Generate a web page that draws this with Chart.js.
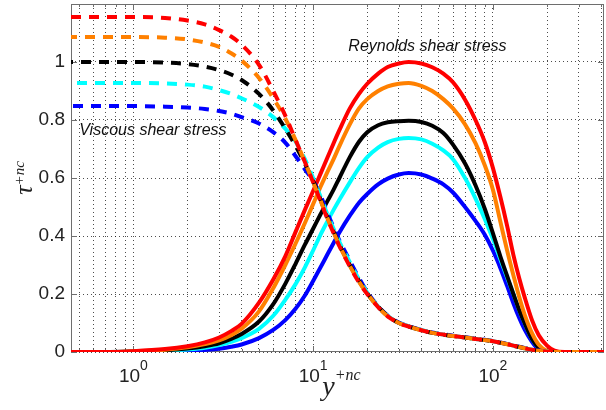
<!DOCTYPE html>
<html>
<head>
<meta charset="utf-8">
<script src="https://cdn.jsdelivr.net/npm/chart.js@4.4.0/dist/chart.umd.min.js"></script>
<style>
html,body{margin:0;padding:0;background:#fff}
</style>
</head>
<body>
<canvas id="data_chart" width="606" height="410"></canvas>
<script>
// y+nc sample positions, shared by every curve
const yplus=[0.45,0.7,1,1.5,2,2.5,3,3.5,4, 5,6,7,8,9,10, 11,12,13,14,16,18,20, 23,26,30,34,40,46,53,60, 70,80,90,100,110,120,130,140,150, 165,180,200,220,250,300,415]

// viscous shear stress (dashed)
const viscous_red=[1.155,1.155,1.155,1.152,1.143,1.13,1.11,1.088,1.06, 0.99,0.9,0.815,0.73,0.655,0.585, 0.52,0.46,0.41,0.365,0.295,0.24,0.2, 0.155,0.123,0.1,0.088,0.075,0.066,0.06,0.055, 0.05,0.045,0.041,0.037,0.032,0.027,0.022,0.017,0.013, 0.008,0.004,0.001,0,0,0,0]
const viscous_orange=[1.086,1.086,1.086,1.084,1.078,1.067,1.052,1.03,1.005, 0.945,0.875,0.805,0.73,0.655,0.585, 0.522,0.462,0.412,0.367,0.297,0.242,0.201, 0.155,0.123,0.1,0.088,0.075,0.066,0.06,0.055, 0.05,0.045,0.041,0.037,0.032,0.027,0.022,0.017,0.013, 0.008,0.004,0.001,0,0,0,0]
const viscous_black=[1.0,1.0,1.0,0.998,0.993,0.984,0.972,0.957,0.938, 0.89,0.833,0.77,0.71,0.65,0.59, 0.525,0.465,0.415,0.37,0.3,0.245,0.202, 0.156,0.124,0.1,0.088,0.075,0.066,0.06,0.055, 0.05,0.045,0.041,0.037,0.032,0.027,0.022,0.017,0.013, 0.008,0.004,0.001,0,0,0,0]
const viscous_cyan=[0.928,0.928,0.928,0.926,0.922,0.915,0.903,0.89,0.875, 0.845,0.81,0.77,0.725,0.665,0.6, 0.535,0.475,0.425,0.38,0.31,0.25,0.205, 0.157,0.125,0.101,0.089,0.076,0.067,0.06,0.055, 0.05,0.045,0.041,0.037,0.032,0.027,0.022,0.017,0.013, 0.008,0.004,0.001,0,0,0,0]
const viscous_blue=[0.848,0.848,0.848,0.846,0.843,0.838,0.831,0.822,0.81, 0.788,0.758,0.722,0.675,0.63,0.59, 0.54,0.48,0.43,0.385,0.315,0.255,0.207, 0.158,0.126,0.102,0.089,0.076,0.067,0.061,0.056, 0.051,0.046,0.042,0.038,0.033,0.028,0.023,0.018,0.014, 0.009,0.005,0.001,0,0,0,0]

// Reynolds shear stress (solid)
const reynolds_red=[0,0,0.003,0.01,0.02,0.033,0.05,0.072,0.097, 0.17,0.25,0.33,0.415,0.49,0.555, 0.615,0.67,0.72,0.765,0.84,0.89,0.925, 0.96,0.983,0.995,1.0,0.995,0.982,0.96,0.93, 0.87,0.8,0.725,0.635,0.535,0.435,0.335,0.255,0.19, 0.11,0.058,0.022,0.005,0,0,0]
const reynolds_orange=[0,0,0.002,0.008,0.016,0.027,0.04,0.058,0.08, 0.14,0.22,0.3,0.375,0.445,0.51, 0.57,0.62,0.665,0.71,0.785,0.84,0.872, 0.9,0.916,0.925,0.928,0.918,0.9,0.872,0.84, 0.785,0.72,0.645,0.56,0.45,0.35,0.265,0.19,0.13, 0.065,0.025,0.004,0,0,0,0]
const reynolds_black=[0,0,0.002,0.006,0.012,0.02,0.03,0.045,0.062, 0.105,0.165,0.235,0.305,0.37,0.425, 0.475,0.52,0.56,0.6,0.672,0.725,0.758, 0.782,0.792,0.796,0.797,0.793,0.78,0.755,0.715, 0.65,0.575,0.495,0.41,0.33,0.262,0.2,0.145,0.1, 0.045,0.015,0.002,0,0,0,0]
const reynolds_cyan=[0,0,0.001,0.004,0.009,0.015,0.024,0.035,0.048, 0.08,0.125,0.18,0.235,0.292,0.35, 0.405,0.45,0.49,0.525,0.585,0.635,0.672, 0.705,0.724,0.735,0.738,0.733,0.718,0.695,0.665, 0.6,0.53,0.46,0.39,0.32,0.257,0.2,0.145,0.1, 0.045,0.015,0.002,0,0,0,0]
const reynolds_blue=[0,0,0,0.002,0.004,0.007,0.011,0.018,0.026, 0.048,0.076,0.11,0.15,0.195,0.245, 0.292,0.336,0.376,0.412,0.47,0.515,0.545, 0.578,0.598,0.612,0.617,0.612,0.598,0.578,0.55, 0.5,0.452,0.405,0.35,0.29,0.228,0.168,0.118,0.078, 0.035,0.008,0,0,0,0,0]

const colors=['#ff0000','#ff8000','#000000','#00ffff','#0000ff']
const y_ticks=[0,0.2,0.4,0.6,0.8,1]
const x_grid=[0.5,0.6,0.7,0.8,0.9,1,2,3,4,5,6,7,8,9,10,20,30,40,50,60,70,80,90,100,200,300,400]
const decades=[1,10,100]

const viscous=[viscous_red,viscous_orange,viscous_black,viscous_cyan,viscous_blue]
const reynolds=[reynolds_red,reynolds_orange,reynolds_black,reynolds_cyan,reynolds_blue]

function pts(vals){
  return yplus.map((x,i)=>({x:x,y:vals[i]}))
}

const datasets=[]
// dashed first so they sit on top of the solid curves
for(let i=0;i<5;i++){
  datasets.push({data:pts(viscous[i]),borderColor:colors[i],borderWidth:4,borderDash:[10,8],borderDashOffset:i*4,
    pointRadius:0,fill:false,cubicInterpolationMode:'monotone'})
}
for(let i=0;i<5;i++){
  datasets.push({data:pts(reynolds[i]),borderColor:colors[i],borderWidth:4,
    pointRadius:0,fill:false,cubicInterpolationMode:'monotone'})
}

function sup_text(ctx,base,sup,base_font,sup_font,x,y,rise){
  ctx.font=base_font
  const w1=ctx.measureText(base).width
  ctx.font=sup_font
  const w2=ctx.measureText(sup).width
  const x0=x-(w1+w2)/2
  ctx.font=base_font
  ctx.fillText(base,x0,y)
  ctx.font=sup_font
  ctx.fillText(sup,x0+w1,y-rise)
}

const frame_plugin={
  id:'frame',
  beforeDatasetsDraw(chart){
    const {ctx,chartArea:a,scales:{x,y}}=chart
    ctx.save()
    ctx.strokeStyle='#6e6e6e'
    ctx.lineWidth=1
    ctx.strokeRect(a.left+0.5,a.top+0.5,a.right-a.left-1,a.bottom-a.top-1)
    ctx.beginPath()
    x.ticks.forEach(t=>{
      const px=Math.round(x.getPixelForValue(t.value))+0.5
      const len=decades.includes(t.value)?6:3
      ctx.moveTo(px,a.bottom);ctx.lineTo(px,a.bottom-len)
      ctx.moveTo(px,a.top);ctx.lineTo(px,a.top+len)
    })
    y.ticks.forEach(t=>{
      const py=Math.round(y.getPixelForValue(t.value))+0.5
      ctx.moveTo(a.left,py);ctx.lineTo(a.left+6,py)
      ctx.moveTo(a.right,py);ctx.lineTo(a.right-6,py)
    })
    ctx.stroke()
    ctx.restore()
  },
  afterDraw(chart){
    const {ctx,chartArea:a,scales:{x,y}}=chart
    ctx.save()
    ctx.fillStyle='#222'
    ctx.textAlign='left'
    ctx.textBaseline='alphabetic'
    decades.forEach((v,i)=>{
      sup_text(ctx,'10',String(i),'19px "Liberation Sans", Arial','14px "Liberation Sans", Arial',x.getPixelForValue(v),382,12)
    })
    // axis titles
    sup_text(ctx,'y','+nc','italic 28px "Liberation Serif", serif','italic 16px "Liberation Serif", serif',(a.left+a.right)/2+4,395,15)
    ctx.save()
    ctx.translate(32,178)
    ctx.rotate(-Math.PI/2)
    sup_text(ctx,'\u03c4','+nc','italic 26px "Liberation Serif", serif','italic 15px "Liberation Serif", serif',0,0,8)
    ctx.restore()
    // labels inside the plot
    ctx.fillStyle='#111'
    ctx.textBaseline='middle'
    ctx.font='italic 16px "Liberation Sans", Arial'
    ctx.fillText('Viscous shear stress',x.getPixelForValue(0.5),y.getPixelForValue(0.765))
    ctx.fillText('Reynolds shear stress',x.getPixelForValue(15.7),y.getPixelForValue(1.052))
    ctx.restore()
  }
}

const grid_color='rgba(0,0,0,0.7)'

const data_chart=new Chart('data_chart',{
  type:'line',
  data:{datasets:datasets},
  options:{
    responsive:false,
    animation:false,
    events:[],
    layout:{padding:{top:4,right:2,left:0,bottom:0}},
    plugins:{legend:{display:false},tooltip:{enabled:false}},
    scales:{
      x:{
        type:'logarithmic',min:0.45,max:415,
        afterBuildTicks:s=>{s.ticks=x_grid.map(v=>({value:v}))},
        afterFit:s=>{s.height=58;s.paddingLeft=0;s.paddingRight=0},
        ticks:{display:false},
        grid:{color:grid_color,lineWidth:1,drawTicks:false},
        border:{display:false,dash:[1,3]}
      },
      y:{
        type:'linear',min:0,max:1.2,
        afterBuildTicks:s=>{s.ticks=y_ticks.map(v=>({value:v}))},
        afterFit:s=>{s.width=71;s.paddingTop=0;s.paddingBottom=0},
        ticks:{font:{family:'"Liberation Sans", Arial',size:19},color:'#222',padding:6,callback:v=>String(v)},
        grid:{color:grid_color,lineWidth:1,drawTicks:false},
        border:{display:false,dash:[1,3]}
      }
    }
  },
  plugins:[frame_plugin]
})
</script>
</body>
</html>
